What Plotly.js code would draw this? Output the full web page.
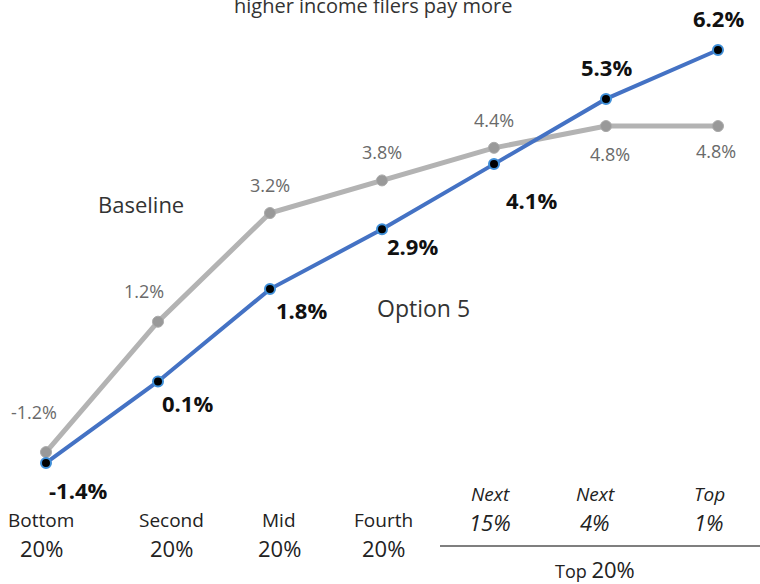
<!DOCTYPE html>
<html><head><meta charset="utf-8">
<script src="https://cdn.plot.ly/plotly-3.0.1.min.js"></script>
<style>html,body{margin:0;padding:0;background:#fff}#chart{width:760px;height:584px}</style>
</head><body><div id="chart"></div>
<script>
// ---- data ----
const catTop = ["Bottom", "Second", "Mid", "Fourth", "Next", "Next", "Top"];
const catBottom = ["20%", "20%", "20%", "20%", "15%", "4%", "1%"];
const baseline = [-1.2, 1.2, 3.2, 3.8, 4.4, 4.8, 4.8];
const option5 = [-1.4, 0.1, 1.8, 2.9, 4.1, 5.3, 6.2];
const groupLabel = "Top 20%";
const titleText = "higher income filers pay more";

// ---- layout helpers ----
const W = 760, H = 584, MT = 40, MB = 114;
const plotH = H - MT - MB;
const pyPaper = px => (H - MB - px) / plotH;   // page px (y) -> paper
const pxPaper = px => px / W;                    // page px (x) -> paper
const xs = option5.map((_, i) => i);
const font = "Open Sans, Noto Sans, sans-serif";

const blueShift = [[32, -27], [29, -22], [31, -21], [30, -17], [37, -36], [0, 32], [0, 32]];
const grayShift = [[-12, 40], [-14, 31], [0, 28], [0, 28], [0, 28], [4, -28], [-2, -25]];
const catShift = [-5, 13, 9, 1, -4, -11, -9];

const annotations = [];
const ann = o => annotations.push(Object.assign({showarrow: false, xanchor: 'center', yanchor: 'middle'}, o));
option5.forEach((v, i) => ann({
  x: i, y: v, xref: 'x', yref: 'y', text: v.toFixed(1) + '%',
  xshift: blueShift[i][0], yshift: blueShift[i][1],
  font: {family: font, size: 22, color: '#111', weight: 'bold'}
}));
baseline.forEach((v, i) => ann({
  x: i, y: v, xref: 'x', yref: 'y', text: v.toFixed(1) + '%',
  xshift: grayShift[i][0], yshift: grayShift[i][1],
  font: {family: font, size: 18, color: '#6a6a6a'}
}));
catTop.forEach((t, i) => {
  const ital = i >= 4;
  ann({
    x: i, xref: 'x', yref: 'paper', y: pyPaper(ital ? 494 : 520), text: ital ? '<i>' + t + '</i>' : t,
    xshift: catShift[i], font: {family: font, size: 19, color: '#222'}
  });
  ann({
    x: i, xref: 'x', yref: 'paper', y: pyPaper(ital ? 522 : 548), text: ital ? '<i>' + catBottom[i] + '</i>' : catBottom[i],
    xshift: catShift[i], font: {family: font, size: 22, color: '#222'}
  });
});
ann({
  xref: 'paper', yref: 'paper', x: pxPaper(595), y: pyPaper(569),
  text: groupLabel.replace(/(\d+%)/, "<span style='font-size:22px'>$1</span>"),
  font: {family: font, size: 18, color: '#222'}
});
ann({xref: 'paper', yref: 'paper', x: pxPaper(141), y: pyPaper(204), text: 'Baseline',
  font: {family: font, size: 22, color: '#333'}});
ann({xref: 'paper', yref: 'paper', x: pxPaper(423), y: pyPaper(308), text: 'Option 5',
  font: {family: font, size: 23, color: '#333'}});
ann({xref: 'paper', yref: 'paper', x: pxPaper(373), y: pyPaper(5), text: titleText,
  font: {family: font, size: 20, color: '#333'}});

const traces = [
  {x: xs, y: baseline, type: 'scatter', mode: 'lines+markers', name: 'Baseline', cliponaxis: false,
   line: {color: '#b3b3b3', width: 5}, marker: {color: '#999999', size: 11, line: {color: '#aaaaaa', width: 1}}},
  {x: xs, y: option5, type: 'scatter', mode: 'lines+markers', name: 'Option 5', cliponaxis: false,
   line: {color: '#4472c4', width: 4}, marker: {color: '#000000', size: 10, line: {color: '#3f8fd8', width: 2}}}
];

const layout = {
  width: W, height: H, margin: {l: 0, r: 0, t: MT, b: MB},
  paper_bgcolor: '#fff', plot_bgcolor: '#fff', showlegend: false,
  xaxis: {range: [-46 / 112, (W - 46) / 112], visible: false, fixedrange: true},
  yaxis: {range: [-1.529, 6.384], visible: false, fixedrange: true},
  annotations: annotations,
  shapes: [{type: 'line', xref: 'paper', yref: 'paper', x0: pxPaper(440), x1: pxPaper(760),
    y0: pyPaper(546), y1: pyPaper(546), line: {color: '#555', width: 1.5}}]
};
Plotly.newPlot('chart', traces, layout, {staticPlot: true});
</script></body></html>
